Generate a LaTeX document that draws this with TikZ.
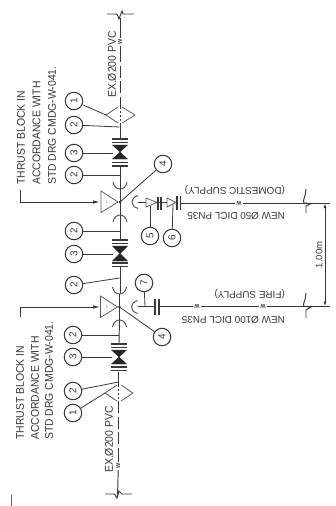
\documentclass[tikz,border=0pt]{standalone}
\usepackage{fontspec}
\setmainfont{Liberation Sans}
\newfontfamily\narrowf[FakeStretch=0.93]{Liberation Sans}
\usetikzlibrary{arrows.meta}
\colorlet{ink}{black!78}
\tikzset{
 pipe/.style={line width=0.95pt,draw=ink},
 leader/.style={line width=0.8pt,draw=ink},
 flange/.style={line width=1.3pt,draw=ink},
 fitting/.style={line width=0.75pt,draw=black!65},
 balloon/.style={circle,draw=ink,line width=1pt,minimum size=17.5pt,inner sep=0pt,font=\fontsize{10}{10}\selectfont,rotate=90,text=ink},
 lab/.style={font=\narrowf\fontsize{11.2}{12}\selectfont,text=ink,inner sep=0pt,rotate=90,anchor=west},
 labr/.style={font=\fontsize{9.9}{10}\selectfont,text=ink,inner sep=0pt,rotate=180,anchor=west},
 wmark/.style={font=\fontsize{5.5}{6}\selectfont\bfseries,fill=white,inner sep=1.5pt,rotate=180,text=ink},
 wmarkv/.style={font=\fontsize{5.5}{6}\selectfont\bfseries,fill=white,inner sep=1pt,rotate=90,text=ink},
 bow/.style={fill=black!85,draw=black!85,line width=0.4pt},
}
\begin{document}
\begin{tikzpicture}[x=1pt,y=-1pt]
\useasboundingbox (0,0) rectangle (336,506);
% pipe breaks
\draw[pipe] (107,14) -- (116,14) .. controls (118,14) and (118.5,19) .. (119,19) -- (122,11) -- (123,14) -- (134,14);
\draw[pipe] (105,494) -- (114,494) .. controls (116,494) and (116,499) .. (117,498) -- (119,491) -- (122,494) -- (132,494);
% named points
\coordinate (tA) at (120,202);
\coordinate (tB) at (119.5,307);
\coordinate (thA) at (20,190);
\coordinate (thB) at (20,317);
% main line
\draw[pipe] (120,18) -- (120,50);
\draw[pipe,dash pattern=on 12pt off 3.5pt] (120,50) -- (120,100);
\draw[pipe] (120,100) -- (120,107);
\draw[pipe,dash pattern=on 2pt off 2pt] (120,107) -- (120,123);
\draw[pipe] (120,123) -- (120,138);
\draw[pipe] (120,167) -- (120,189);
\draw[pipe] (120,215) -- (120,239);
\draw[pipe] (120,267) -- (120,293);
\draw[pipe] (119.5,320) -- (119,343);
\draw[pipe] (118.5,372) -- (118.5,385);
\draw[pipe,dash pattern=on 2pt off 2pt] (118.5,385) -- (118.5,401);
\draw[pipe,dash pattern=on 12pt off 3.5pt] (118.5,401) -- (118.5,460);
\draw[pipe] (118.5,460) -- (117.5,497);
\node[wmarkv] (w1) at (120,42) {W};
\node[wmarkv] (w2) at (118.2,466) {W};
% reducers
\draw[fitting] (118,107) -- (106,115) -- (118,123);
\draw[fitting] (122,107) -- (135,115) -- (122,123);
\draw[fitting] (117,385) -- (105,393) -- (117,401);
\draw[fitting] (121,385) -- (133,393) -- (121,401);
% valves
\foreach \xc/\ya/\yb/\yw/\yc/\yd/\ye/\yf in {120/139/142.5/152/145/159/162.5/166, 120/240/243.5/253.5/246/261/263/266.5, 119/344/347.5/357/350/364/367/370.5}{
  \draw[flange] (\xc-8,\ya) -- (\xc+8,\ya);
  \draw[flange] (\xc-8,\yb) -- (\xc+8,\yb);
  \draw[flange] (\xc-8,\ye) -- (\xc+8,\ye);
  \draw[flange] (\xc-8,\yf) -- (\xc+8,\yf);
  \draw[bow] (\xc-7.5,\yc) -- (\xc+7.5,\yc) -- (\xc-7.5,\yd) -- (\xc+7.5,\yd) -- cycle;
}
% tees: socket arcs
\foreach \cx/\cy in {120/202,119.5/307}{
  \draw[fitting,line width=1pt] (\cx-7,\cy-20) .. controls (\cx-6,\cy-15) and (\cx-3,\cy-13) .. (\cx,\cy-13) .. controls (\cx+3,\cy-13) and (\cx+6,\cy-15) .. (\cx+7,\cy-20);
  \draw[fitting,line width=1pt] (\cx-7,\cy+20) .. controls (\cx-6,\cy+15) and (\cx-3,\cy+13) .. (\cx,\cy+13) .. controls (\cx+3,\cy+13) and (\cx+6,\cy+15) .. (\cx+7,\cy+20);
  \draw[fitting,line width=1pt] (\cx+18,\cy-6.5) .. controls (\cx+14,\cy-5) and (\cx+12,\cy-3) .. (\cx+12,\cy) .. controls (\cx+12,\cy+3) and (\cx+14,\cy+5) .. (\cx+18,\cy+6.5);
  \draw[fitting] (\cx-2,\cy) -- (\cx-19,\cy-11) -- (\cx-19,\cy+10.5) -- cycle;
  \draw[pipe] (\cx,\cy-13) -- (\cx,\cy+13);
  \fill[black!85] (\cx,\cy) circle (1.3pt);
}
\node[font=\fontsize{4}{4}\selectfont,text=black!70,inner sep=0pt] at (107,202) {t};
\node[font=\fontsize{4}{4}\selectfont,text=black!70,inner sep=0pt] at (107,307) {t};
% thrust block arrows
\draw[pipe,-{Latex[length=7pt,width=3.5pt]}] (thA) |- (100,202);
\draw[pipe,-{Latex[length=7pt,width=3.5pt]}] (thB) |- (100,307);
% upper branch
\draw[pipe] (138,202) -- (146,202);
\draw[fitting] (146,198) -- (157,202.5) -- (146,207) -- cycle;
\draw[pipe] (157,202.5) -- (160,202.5);
\draw[flange] (158,197) -- (158,210);
\draw[flange] (161,197) -- (161,210);
\draw[pipe] (161,202.5) -- (167,202.5);
\draw[fitting] (167,198) -- (176,202.5) -- (167,207) -- cycle;
\draw[flange] (177,196) -- (177,210);
\draw[flange] (180.5,196) -- (180.5,210);
\node[wmark] (w3) at (239,203) {W};
\draw[pipe] (180.5,203) -- (w3);
\draw[pipe] (w3) -- (330,203);
% lower branch
\draw[pipe] (138,306.5) -- (155,306.5);
\draw[flange] (155,299) -- (155,315);
\draw[flange] (159,299) -- (159,315);
\node[wmark] (w4) at (197,306.5) {W};
\node[wmark] (w5) at (263,306.5) {W};
\draw[pipe] (159,306.5) -- (w4);
\draw[pipe] (w4) -- (w5);
\draw[pipe] (w5) -- (330,306.5);
% right-hand breaks
\draw[pipe] (306,189) .. controls (306,196) and (302,201) .. (304,203) -- (311,203.5) -- (306,206) -- (306,213);
\draw[pipe] (306,293) .. controls (306,300) and (302,305) .. (304,306.5) -- (311,307) -- (306,310) -- (306,318);
% dimension
\coordinate (dA) at (325,203);
\coordinate (dB) at (325,306.5);
\draw[pipe,{Latex[length=5pt,width=3pt]}-{Latex[length=5pt,width=3pt]}] (dA) -- (dB);
\node[font=\fontsize{9.5}{10}\selectfont,rotate=90,text=ink,inner sep=0pt] (dim) at (319,255) {1.00m};
% balloons
\node[balloon] (b1a) at (74,101) {1};
\node[balloon] (b2a) at (74,125) {2};
\node[balloon] (b3a) at (74,153) {3};
\node[balloon] (b2b) at (74,175) {2};
\node[balloon] (b4a) at (163,164) {4};
\node[balloon] (b2c) at (74,231) {2};
\node[balloon] (b3b) at (74,254) {3};
\node[balloon] (b2d) at (74,285) {2};
\node[balloon] (b5) at (150,236) {5};
\node[balloon] (b6) at (172,238) {6};
\node[balloon] (b7) at (144,283) {7};
\node[balloon] (b4b) at (162,337) {4};
\node[balloon] (b2e) at (73,335) {2};
\node[balloon] (b3c) at (73,357) {3};
\node[balloon] (b2f) at (73,391) {2};
\node[balloon] (b1b) at (73,413) {1};
% leader ends
\coordinate (e1a) at (106,115);
\coordinate (e2a) at (119.5,127);
\coordinate (e3a) at (113,153);
\coordinate (e2b) at (120,175);
\coordinate (e2c) at (120,231);
\coordinate (e3b) at (113,254);
\coordinate (e2d) at (119.5,278);
\coordinate (e5) at (150,205.5);
\coordinate (e6) at (173,205);
\coordinate (e7) at (145,306);
\coordinate (e2e) at (119,335);
\coordinate (e3c) at (112,357);
\coordinate (e2f) at (118.5,382);
\coordinate (e1b) at (105,393);
\draw[leader] (b1a) -- (e1a);
\draw[leader] (b2a) -- (e2a);
\draw[leader] (b3a) -- (e3a);
\draw[leader] (b2b) -- (e2b);
\draw[leader] (b4a) -- (tA);
\draw[leader] (b2c) -- (e2c);
\draw[leader] (b3b) -- (e3b);
\draw[leader] (b2d) -- (e2d);
\draw[leader] (b5) -- (e5);
\draw[leader] (b6) -- (e6);
\draw[leader] (b7) -- (e7);
\draw[leader] (b4b) -- (tB);
\draw[leader] (b2e) -- (e2e);
\draw[leader] (b3c) -- (e3c);
\draw[leader] (b2f) -- (e2f);
\draw[leader] (b1b) -- (e1b);
% texts
\node[lab] (ta1) at (21,185) {THRUST BLOCK IN};
\node[lab] (ta2) at (36.5,185) {ACCORDANCE WITH};
\node[lab] (ta3) at (52,185) {STD DRG CMDG-W-041.};
\node[lab] (tb1) at (20,440) {THRUST BLOCK IN};
\node[lab] (tb2) at (35,440) {ACCORDANCE WITH};
\node[lab] (tb3) at (49,440) {STD DRG CMDG-W-041.};
\node[lab] (ex1) at (112,98) {EX.Ø200 PVC};
\node[lab] (ex2) at (109,473) {EX.Ø200 PVC};
\node[labr] (d1) at (285,190) {(DOMESTIC SUPPLY)};
\node[labr] (d2) at (285,216) {NEW Ø50 DICL PN35};
\node[labr] (f1) at (285,294) {(FIRE SUPPLY)};
\node[labr] (f2) at (285,320) {NEW Ø100 DICL PN35};
% stray mark
\draw[line width=0.8pt,draw=black!60] (11,495) -- (11,506);
\end{tikzpicture}
\end{document}
